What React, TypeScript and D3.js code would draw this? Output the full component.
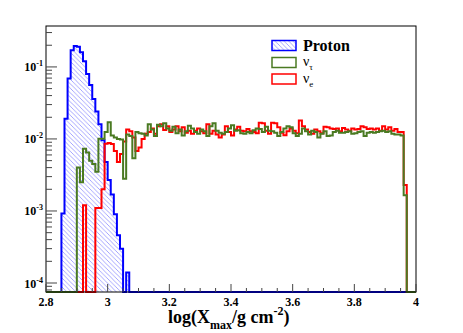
import { useEffect, useRef } from 'react';
import * as d3 from 'd3';

// histogram binning (log10 Xmax)
const binLo = 2.8;
const binWidth = 0.01;
const nBins = 120;

// normalized entries per bin, starting at the given bin index
const protonStart = 5;
const protonValues = [
  9.2e-4, 0.019, 0.069, 0.17, 0.195, 0.19, 0.16, 0.12, 0.08, 0.056, 0.036,
  0.024, 0.016, 0.0096, 0.0048, 0.0027, 0.0017, 9e-4, 4.6e-4, 3e-4, 0, 1.4e-4,
];

const nuTauStart = 10;
const nuTauValues = [
  0.0040, 0.0025, 0.0073, 0.0065, 0.0050, 0.0045, 0.0035, 0.0101, 0.0101, 0.0125,
  0.0170, 0.0112, 0.0105, 0.0100, 0.0098, 0.0028, 0.0115, 0.0110, 0.0054, 0.0125,
  0.0120, 0.0118, 0.0112, 0.0160, 0.0135, 0.0110, 0.0158, 0.0150, 0.0165, 0.0140,
  0.0130, 0.0148, 0.0120, 0.0135, 0.0112, 0.0128, 0.0152, 0.0140, 0.0125, 0.0118,
  0.0135, 0.0128, 0.0110, 0.0150, 0.0165, 0.0130, 0.0122, 0.0118, 0.0125, 0.0140,
  0.0155, 0.0130, 0.0132, 0.0120, 0.0118, 0.0125, 0.0120, 0.0132, 0.0140, 0.0138,
  0.0125, 0.0148, 0.0130, 0.0128, 0.0122, 0.0110, 0.0125, 0.0140, 0.0150, 0.0145,
  0.0120, 0.0110, 0.0118, 0.0140, 0.0128, 0.0115, 0.0130, 0.0125, 0.0105, 0.0118,
  0.0128, 0.0110, 0.0112, 0.0125, 0.0130, 0.0122, 0.0122, 0.0125, 0.0128, 0.0118,
  0.0120, 0.0125, 0.0128, 0.0110, 0.0122, 0.0125, 0.0122, 0.0125, 0.0128, 0.0130,
  0.0125, 0.0128, 0.0118, 0.0115, 0.0115, 0.0112, 0.00165,
];

const nuEStart = 12;
const nuEValues = [
  0.0012, 0, 0, 0, 0.0011, 0.0011, 0.0020, 0.0086,
  0.0088, 0.0085, 0.0068, 0.0048, 0.0062, 0.0092, 0.0135, 0.0128, 0.0105, 0.0068,
  0.0076, 0.0100, 0.0118, 0.0125, 0.0140, 0.0118, 0.0150, 0.0160, 0.0133, 0.0150,
  0.0125, 0.0135, 0.0150, 0.0128, 0.0145, 0.0122, 0.0130, 0.0118, 0.0130, 0.0140,
  0.0128, 0.0120, 0.0160, 0.0118, 0.0130, 0.0115, 0.0105, 0.0115, 0.0150, 0.0125,
  0.0112, 0.0135, 0.0148, 0.0130, 0.0128, 0.0138, 0.0128, 0.0125, 0.0120, 0.0168,
  0.0165, 0.0130, 0.0118, 0.0168, 0.0165, 0.0145, 0.0122, 0.0113, 0.0128, 0.0140,
  0.0130, 0.0120, 0.0180, 0.0150, 0.0135, 0.0125, 0.0118, 0.0135, 0.0128, 0.0120,
  0.0148, 0.0145, 0.0140, 0.0138, 0.0140, 0.0128, 0.0142, 0.0135, 0.0130, 0.0140,
  0.0135, 0.0138, 0.0150, 0.0145, 0.0138, 0.0140, 0.0135, 0.0140, 0.0130, 0.0150,
  0.0135, 0.0145, 0.0130, 0.0138, 0.0125, 0.0125, 0.0023,
];

const xTicks = [2.8, 3.0, 3.2, 3.4, 3.6, 3.8, 4.0];
const xTickLabels = ['2.8', '3', '3.2', '3.4', '3.6', '3.8', '4'];
const yDecades = [1e-1, 1e-2, 1e-3, 1e-4];
const yDecadeExps = ['-1', '-2', '-3', '-4'];

const legendNames = ['Proton', 'ν', 'ν'];
const legendSubs = ['', 'τ', 'e'];

const W = 463;
const H = 333;
const FONT = '"Liberation Serif", "DejaVu Serif", serif';
const GREEN = '#4a7a22';

function fullBins(start: number, vals: number[]) {
  const out = new Array(nBins).fill(0);
  vals.forEach((v, i) => { out[start + i] = v; });
  return out;
}

function App() {
  const svgRef = useRef<SVGSVGElement>(null);

  useEffect(() => {
    const svg = d3.select(svgRef.current);
    svg.selectAll('*').remove();

    const x = d3.scaleLinear().domain([2.8, 4.0]).range([46, 416]);
    const y = d3.scaleLog().domain([7.5e-5, 0.37]).range([292, 26]);
    const [y0] = y.range();

    // hatch pattern for the proton histogram (thin "\\" lines)
    const defs = svg.append('defs');
    const pat = defs.append('pattern')
      .attr('id', 'hatch')
      .attr('patternUnits', 'userSpaceOnUse')
      .attr('width', 4.5).attr('height', 4.5);
    pat.append('path')
      .attr('d', 'M-1,-1 L5.5,5.5 M-1,3.5 L1,5.5 M3.5,-1 L5.5,1')
      .attr('stroke', '#6a6aff')
      .attr('stroke-width', 0.6);

    const histPath = (vals: number[]) => {
      let d = `M${x(binLo)},${y0}`;
      vals.forEach((v, i) => {
        const yy = v > y.domain()[0] ? y(Math.min(v, 0.37)) : y0;
        d += `L${x(binLo + i * binWidth)},${yy}L${x(binLo + (i + 1) * binWidth)},${yy}`;
      });
      d += `L${x(binLo + nBins * binWidth)},${y0}`;
      return d;
    };

    const proton = fullBins(protonStart, protonValues);
    const nuTau = fullBins(nuTauStart, nuTauValues);
    const nuE = fullBins(nuEStart, nuEValues);

    svg.append('path').attr('d', histPath(proton) + 'Z')
      .attr('fill', 'url(#hatch)').attr('stroke', 'none');
    svg.append('path').attr('d', histPath(proton))
      .attr('fill', 'none').attr('stroke', '#0000ff').attr('stroke-width', 2);
    svg.append('path').attr('d', histPath(nuE))
      .attr('fill', 'none').attr('stroke', '#ff0000').attr('stroke-width', 2);
    svg.append('path').attr('d', histPath(nuTau))
      .attr('fill', 'none').attr('stroke', GREEN).attr('stroke-width', 2);

    // frame
    svg.append('rect')
      .attr('x', 46).attr('y', 26).attr('width', 370).attr('height', 266)
      .attr('fill', 'none').attr('stroke', '#000').attr('stroke-width', 1);

    // y ticks (inside the frame)
    const ticksG = svg.append('g').attr('stroke', '#444').attr('stroke-width', 1);
    for (let e = -5; e <= -1; e++) {
      for (let m = 1; m <= 9; m++) {
        const v = m * Math.pow(10, e);
        if (v < 7.5e-5 || v > 0.37) continue;
        const len = m === 1 ? 11 : 6;
        ticksG.append('line')
          .attr('x1', 46).attr('x2', 46 + len)
          .attr('y1', y(v)).attr('y2', y(v));
      }
    }
    // x ticks
    d3.range(2.8, 4.0001, 0.05).forEach((v) => {
      const major = Math.abs(v * 5 - Math.round(v * 5)) < 1e-6;
      ticksG.append('line')
        .attr('x1', x(v)).attr('x2', x(v))
        .attr('y1', 292).attr('y2', 292 - (major ? 8 : 4));
    });

    // y labels
    yDecades.forEach((v, i) => {
      const t = svg.append('text')
        .attr('x', 43).attr('y', y(v) + 4.5)
        .attr('text-anchor', 'end')
        .attr('font-family', FONT).attr('font-weight', 'bold')
        .attr('font-size', 12);
      t.append('tspan').text('10');
      t.append('tspan').attr('font-size', 8).attr('dy', -5).text(yDecadeExps[i]);
    });

    // x labels
    xTicks.forEach((v, i) => {
      svg.append('text')
        .attr('x', x(v)).attr('y', 306)
        .attr('text-anchor', 'middle')
        .attr('font-family', FONT).attr('font-weight', 'bold')
        .attr('font-size', 12)
        .text(xTickLabels[i]);
    });

    // x title
    const title = svg.append('text')
      .attr('x', 168).attr('y', 323)
      .attr('font-family', FONT).attr('font-weight', 'bold')
      .attr('font-size', 18);
    title.append('tspan').text('log(X');
    title.append('tspan').attr('font-size', 12).attr('dy', 6).text('max');
    title.append('tspan').attr('dy', -6).text('/g cm');
    title.append('tspan').attr('font-size', 12).attr('dy', -8).text('-2');
    title.append('tspan').attr('dy', 8).text(')');

    // legend
    const legendColors = ['#0000ff', GREEN, '#ff0000'];
    const rowY = [45.5, 62.5, 79];
    legendNames.forEach((name, i) => {
      svg.append('rect')
        .attr('x', 272).attr('y', rowY[i] - 5).attr('width', 24).attr('height', 10)
        .attr('fill', i === 0 ? 'url(#hatch)' : 'none')
        .attr('stroke', legendColors[i]).attr('stroke-width', 1.5);
      const t = svg.append('text')
        .attr('x', 303)
        .attr('font-family', FONT);
      if (i === 0) {
        t.attr('y', rowY[i] + 5.5).attr('font-size', 16).attr('font-weight', 'bold').text(name);
      } else {
        t.attr('y', rowY[i] + 3.5).attr('font-size', 14);
        t.append('tspan').text(name);
        t.append('tspan').attr('font-size', 9).attr('dy', 4).text(legendSubs[i]);
      }
    });
  }, []);

  return (
    <div style={{ position: 'absolute', left: 0, top: 0 }}>
      <svg ref={svgRef} width={W} height={H} style={{ display: 'block', background: '#fff' }} />
    </div>
  );
}

export default App;
